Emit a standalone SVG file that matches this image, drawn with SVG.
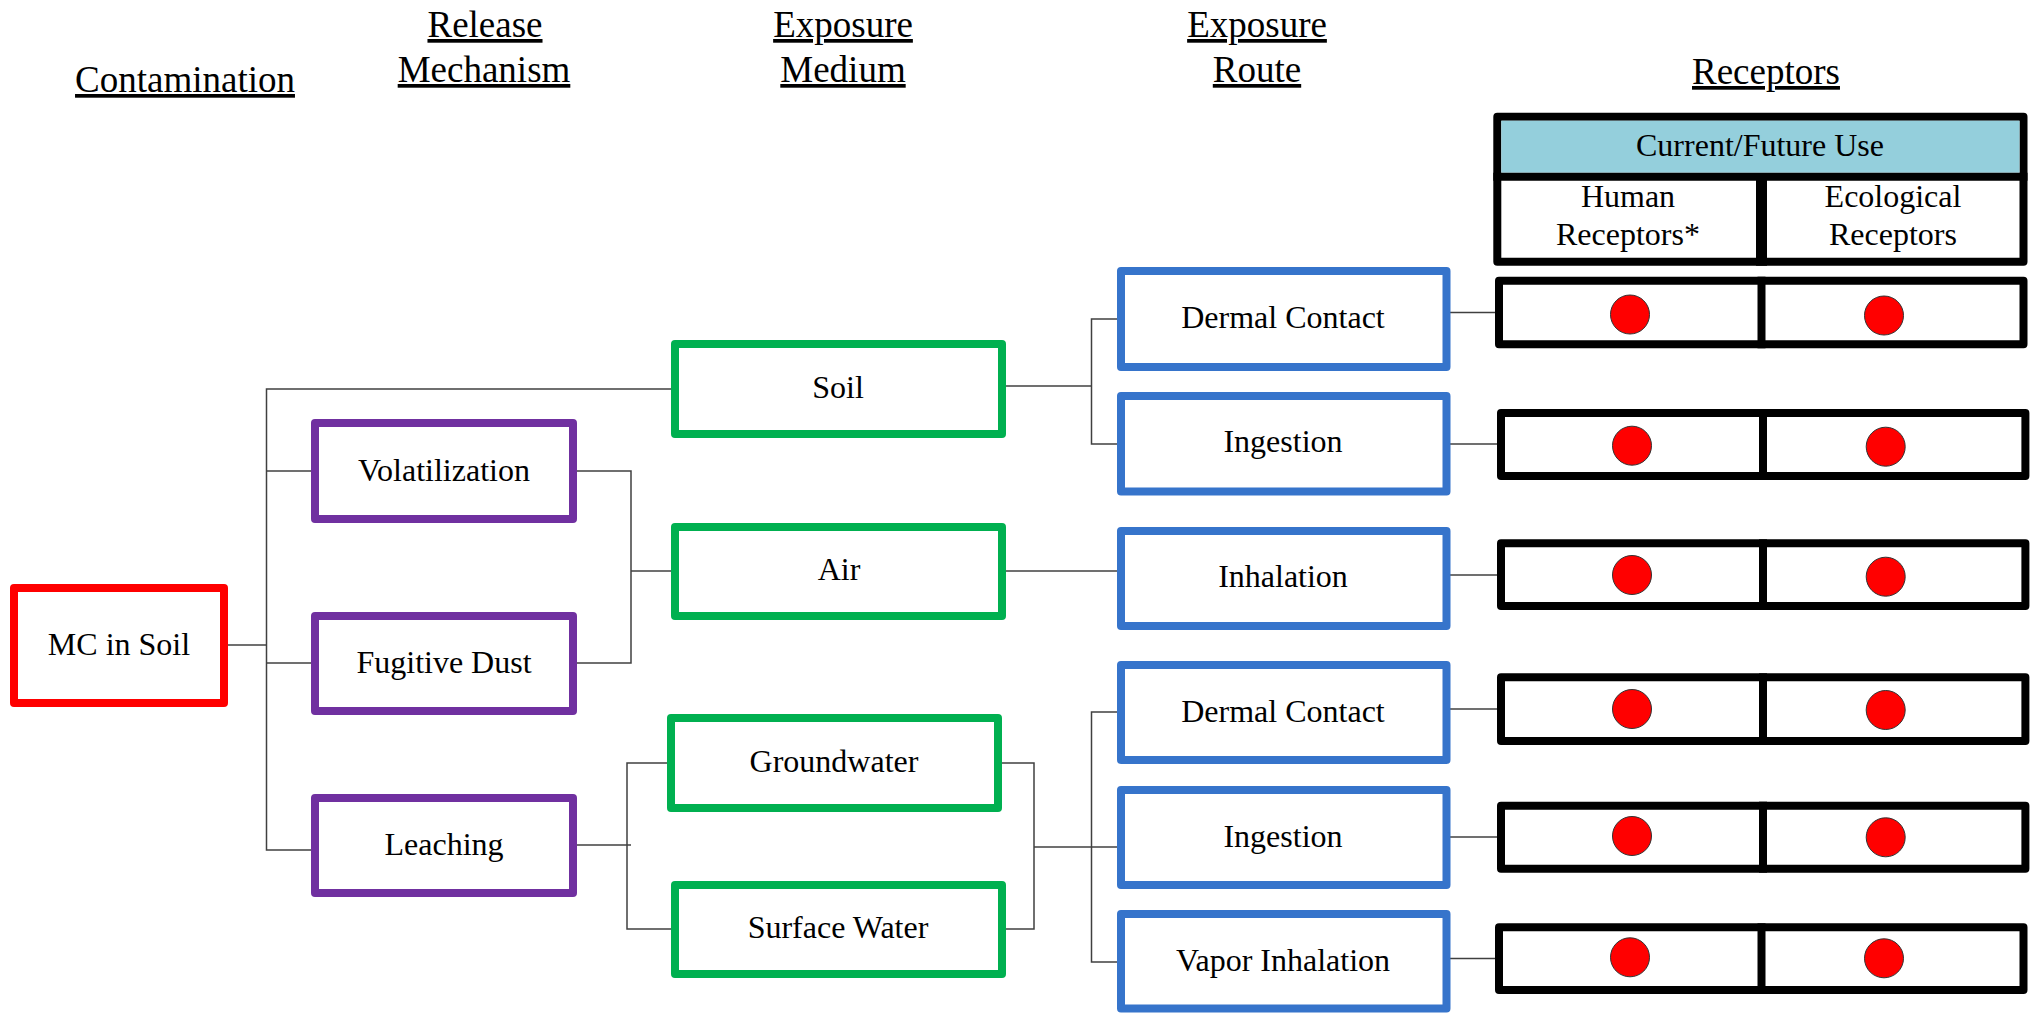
<svg xmlns="http://www.w3.org/2000/svg" width="2040" height="1013" viewBox="0 0 2040 1013">
<style>
  text { font-family: "Liberation Serif", "Times New Roman", serif; fill: #000; text-anchor: middle; }
  .hdr { font-size: 37px; text-decoration: underline; }
  .lbl { font-size: 32px; }
  .box { fill: #fff; stroke-width: 8; stroke-linejoin: round; }
  .red { stroke: #FF0000; }
  .pur { stroke: #7030A0; }
  .grn { stroke: #00B050; }
  .blu { stroke: #3674CB; }
  .rec { fill: #fff; stroke: #000; stroke-width: 8; stroke-linejoin: round; }
  .div { stroke: #000; stroke-width: 8; }
  .dot { fill: #FF0000; stroke: #333; stroke-width: 1; }
  .con { fill: none; stroke: #404040; stroke-width: 1.5; }
</style>
<rect width="2040" height="1013" fill="#fff"/>

<g id="headers">
  <text class="hdr" x="185" y="92">Contamination</text>
  <text class="hdr" x="485" y="37">Release</text>
  <text class="hdr" x="484" y="82">Mechanism</text>
  <text class="hdr" x="843" y="37">Exposure</text>
  <text class="hdr" x="843" y="82">Medium</text>
  <text class="hdr" x="1257" y="37">Exposure</text>
  <text class="hdr" x="1257" y="82">Route</text>
  <text class="hdr" x="1766" y="84">Receptors</text>
</g>

<g id="connectors">
  <path class="con" d="M228 645 H266.5"/>
  <path class="con" d="M671 389 H266.5 V850 H311"/>
  <path class="con" d="M266.5 471 H311"/>
  <path class="con" d="M266.5 663 H311"/>
  <path class="con" d="M577 471 H631 V663 H577"/>
  <path class="con" d="M631 571 H671"/>
  <path class="con" d="M577 845 H631"/>
  <path class="con" d="M667 763 H627 V929 H671"/>
  <path class="con" d="M1006 386 H1091.5"/>
  <path class="con" d="M1117 319 H1091.5 V444 H1117"/>
  <path class="con" d="M1006 571 H1117"/>
  <path class="con" d="M1002 763 H1034 V929 H1006"/>
  <path class="con" d="M1034 847 H1117"/>
  <path class="con" d="M1117 712 H1091.5 V962 H1117"/>
  <path class="con" d="M1450 312.5 H1496"/>
  <path class="con" d="M1450 444 H1497"/>
  <path class="con" d="M1450 575 H1497"/>
  <path class="con" d="M1450 709 H1497"/>
  <path class="con" d="M1450 837 H1497"/>
  <path class="con" d="M1450 958.5 H1496"/>
</g>

<g id="mc-in-soil">
  <rect class="box red" x="14" y="588" width="210" height="115"/>
  <text class="lbl" x="119" y="655">MC in Soil</text>
</g>

<g id="volatilization">
  <rect class="box pur" x="315" y="423" width="258" height="96"/>
  <text class="lbl" x="444" y="481">Volatilization</text>
</g>
<g id="fugitive-dust">
  <rect class="box pur" x="315" y="616" width="258" height="95"/>
  <text class="lbl" x="444" y="673">Fugitive Dust</text>
</g>
<g id="leaching">
  <rect class="box pur" x="315" y="798" width="258" height="95"/>
  <text class="lbl" x="444" y="855">Leaching</text>
</g>

<g id="soil">
  <rect class="box grn" x="675" y="344" width="327" height="90"/>
  <text class="lbl" x="838" y="398">Soil</text>
</g>
<g id="air">
  <rect class="box grn" x="675" y="527" width="327" height="89"/>
  <text class="lbl" x="839" y="580">Air</text>
</g>
<g id="groundwater">
  <rect class="box grn" x="671" y="718" width="327" height="90"/>
  <text class="lbl" x="834" y="772">Groundwater</text>
</g>
<g id="surface-water">
  <rect class="box grn" x="675" y="885" width="327" height="89"/>
  <text class="lbl" x="838" y="938">Surface Water</text>
</g>

<g id="dermal-contact-1">
  <rect class="box blu" x="1121" y="271" width="325.5" height="96"/>
  <text class="lbl" x="1283" y="328">Dermal Contact</text>
</g>
<g id="ingestion-1">
  <rect class="box blu" x="1121" y="396" width="325.5" height="95.5"/>
  <text class="lbl" x="1283" y="452">Ingestion</text>
</g>
<g id="inhalation">
  <rect class="box blu" x="1121" y="531" width="325.5" height="95"/>
  <text class="lbl" x="1283" y="587">Inhalation</text>
</g>
<g id="dermal-contact-2">
  <rect class="box blu" x="1121" y="665" width="325.5" height="95"/>
  <text class="lbl" x="1283" y="722">Dermal Contact</text>
</g>
<g id="ingestion-2">
  <rect class="box blu" x="1121" y="790" width="325.5" height="95"/>
  <text class="lbl" x="1283" y="847">Ingestion</text>
</g>
<g id="vapor-inhalation">
  <rect class="box blu" x="1121" y="914" width="325.5" height="94.5"/>
  <text class="lbl" x="1283" y="971">Vapor Inhalation</text>
</g>

<g id="receptor-header">
  <rect class="rec" x="1497.3" y="116.7" width="526.2" height="145"/>
  <rect x="1501.3" y="120.7" width="518.2" height="52" fill="#94CFDC"/>
  <line class="div" x1="1493.3" y1="176.8" x2="2027.5" y2="176.8"/>
  <line x1="1761.5" y1="176.8" x2="1761.5" y2="265.7" stroke="#000" stroke-width="11"/>
  <text class="lbl" x="1760" y="156">Current/Future Use</text>
  <text class="lbl" x="1628" y="207">Human</text>
  <text class="lbl" x="1628" y="245">Receptors*</text>
  <text class="lbl" x="1893" y="207">Ecological</text>
  <text class="lbl" x="1893" y="245">Receptors</text>
</g>

<g id="receptor-row-1">
  <rect class="rec" x="1499" y="280.7" width="524.5" height="63.6"/>
  <line class="div" x1="1761.5" y1="276.7" x2="1761.5" y2="348.3"/>
  <circle class="dot" cx="1630" cy="314.5" r="19.5"/>
  <circle class="dot" cx="1884" cy="315.5" r="19.5"/>
</g>
<g id="receptor-row-2">
  <rect class="rec" x="1501" y="413" width="524.4" height="63"/>
  <line class="div" x1="1763" y1="409" x2="1763" y2="480"/>
  <circle class="dot" cx="1632" cy="445.7" r="19.5"/>
  <circle class="dot" cx="1885.7" cy="446.7" r="19.5"/>
</g>
<g id="receptor-row-3">
  <rect class="rec" x="1501" y="543.3" width="524.4" height="62.7"/>
  <line class="div" x1="1763" y1="539.3" x2="1763" y2="610"/>
  <circle class="dot" cx="1632" cy="575" r="19.5"/>
  <circle class="dot" cx="1885.7" cy="576.7" r="19.5"/>
</g>
<g id="receptor-row-4">
  <rect class="rec" x="1501" y="677.3" width="524.4" height="63.7"/>
  <line class="div" x1="1763" y1="673.3" x2="1763" y2="745"/>
  <circle class="dot" cx="1632" cy="709" r="19.5"/>
  <circle class="dot" cx="1885.7" cy="710" r="19.5"/>
</g>
<g id="receptor-row-5">
  <rect class="rec" x="1501" y="805.7" width="524.4" height="63"/>
  <line class="div" x1="1763" y1="801.7" x2="1763" y2="872.7"/>
  <circle class="dot" cx="1632" cy="836" r="19.5"/>
  <circle class="dot" cx="1885.7" cy="837.3" r="19.5"/>
</g>
<g id="receptor-row-6">
  <rect class="rec" x="1499" y="927.3" width="524.5" height="62.7"/>
  <line class="div" x1="1761.5" y1="923.3" x2="1761.5" y2="994"/>
  <circle class="dot" cx="1630" cy="957.3" r="19.5"/>
  <circle class="dot" cx="1884" cy="958.3" r="19.5"/>
</g>
</svg>
